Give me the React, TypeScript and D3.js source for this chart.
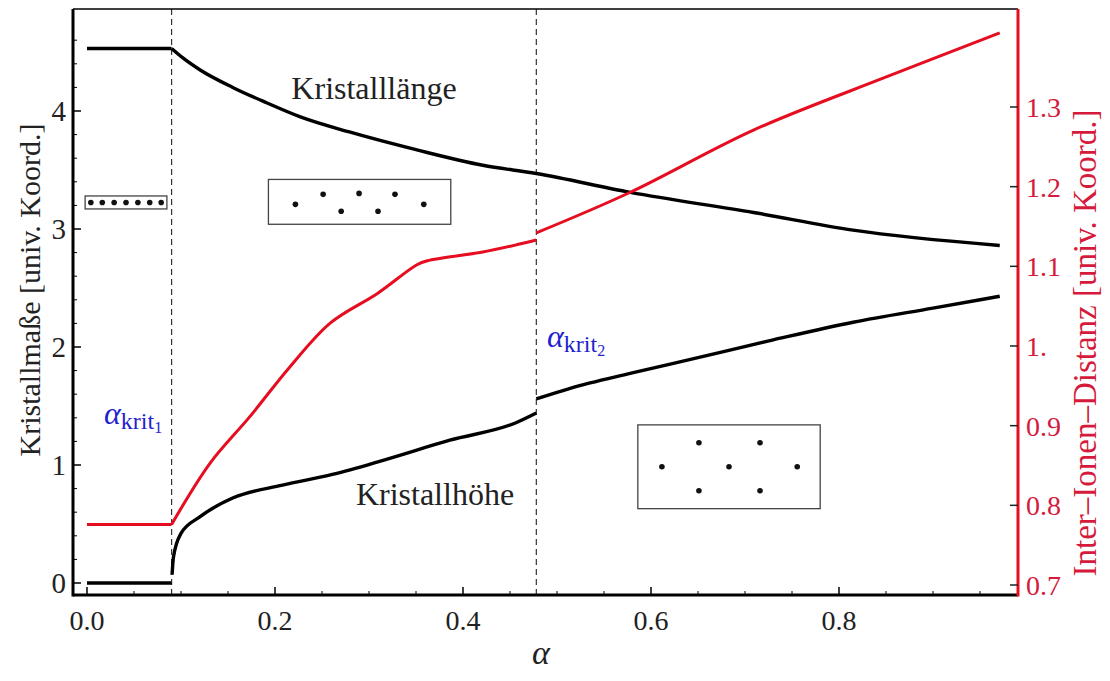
import React from "react";
import * as d3 from "d3";

// alpha positions of the two transitions
const alphaKrit = [0.09, 0.478];

// Kristalllänge (left axis): flat part, then falling part
const laengeAlpha0 = [0, 0.09];
const laengeVal0 = [4.53, 4.53];
const laengeAlpha1 = [0.09, 0.102, 0.12, 0.155, 0.191, 0.227, 0.28, 0.351, 0.421, 0.478, 0.578, 0.709, 0.815, 0.971];
const laengeVal1 = [4.53, 4.45, 4.35, 4.2, 4.07, 3.95, 3.82, 3.67, 3.54, 3.47, 3.31, 3.14, 2.99, 2.86];

// Kristallhöhe (left axis), three pieces
const hoeheAlpha0 = [0, 0.09];
const hoeheVal0 = [0, 0];
const hoeheAlpha1 = [0.0905, 0.092, 0.1, 0.12, 0.155, 0.208, 0.261, 0.315, 0.386, 0.457, 0.478];
const hoeheVal1 = [0.07, 0.22, 0.42, 0.56, 0.72, 0.83, 0.92, 1.04, 1.21, 1.36, 1.44];
const hoeheAlpha2 = [0.478, 0.514, 0.58, 0.65, 0.73, 0.815, 0.9, 0.971];
const hoeheVal2 = [1.56, 1.65, 1.78, 1.91, 2.06, 2.21, 2.33, 2.43];

// Inter-Ionen-Distanz (right axis): flat part, rising part, part after the second transition
const distAlpha0 = [0, 0.09];
const distVal0 = [0.776, 0.776];
const distAlpha1 = [0.09, 0.131, 0.173, 0.216, 0.259, 0.309, 0.351, 0.362, 0.421, 0.457, 0.478];
const distVal1 = [0.776, 0.853, 0.911, 0.974, 1.029, 1.066, 1.102, 1.107, 1.118, 1.127, 1.133];
const distAlpha2 = [0.478, 0.578, 0.709, 0.851, 0.971];
const distVal2 = [1.142, 1.193, 1.271, 1.338, 1.393];

// ticks
const xTicks = [0, 0.2, 0.4, 0.6, 0.8];
const xTickLabels = ["0.0", "0.2", "0.4", "0.6", "0.8"];
const leftTicks = [0, 1, 2, 3, 4];
const rightTicks = [0.7, 0.8, 0.9, 1.0, 1.1, 1.2, 1.3];
const rightTickLabels = ["0.7", "0.8", "0.9", "1.", "1.1", "1.2", "1.3"];

// inset crystal sketches: box in (alpha, left value), dots relative in box
const insetBoxes = [
  { a0: -0.002, a1: 0.085, v0: 3.28, v1: 3.17 },
  { a0: 0.193, a1: 0.387, v0: 3.42, v1: 3.04 },
  { a0: 0.586, a1: 0.78, v0: 1.34, v1: 0.63 },
];
const insetDotsX = [
  [0.07, 0.21, 0.355, 0.5, 0.645, 0.79, 0.93],
  [0.148, 0.3, 0.399, 0.497, 0.601, 0.694, 0.852],
  [0.335, 0.67, 0.132, 0.5, 0.874, 0.335, 0.67],
];
const insetDotsY = [
  [0.5, 0.5, 0.5, 0.5, 0.5, 0.5, 0.5],
  [0.556, 0.333, 0.711, 0.311, 0.711, 0.333, 0.556],
  [0.214, 0.214, 0.5, 0.5, 0.5, 0.786, 0.786],
];

const W = 1110;
const H = 681;
const FONT = "'Liberation Serif', 'Times New Roman', Times, serif";
const RED = "#e50d1f";
const RED_TXT = "#d51a3c";
const BLUE = "#1f1fd0";

export default function App() {
  const x = d3.scaleLinear().domain([0, 0.8]).range([87, 839]);
  const yL = d3.scaleLinear().domain([0, 4]).range([583, 111]);
  const yR = d3.scaleLinear().domain([0.7, 1.3]).range([585, 107]);

  const frameLeft = 73;
  const frameRight = 1018;
  const frameTop = 9;
  const frameBottom = 595;

  const mk = (ys: d3.ScaleLinear<number, number>, curve = d3.curveMonotoneX) =>
    d3
      .line<[number, number]>()
      .x((d) => x(d[0]))
      .y((d) => ys(d[1]))
      .curve(curve);
  const zip = (a: number[], b: number[]) => a.map((v, i) => [v, b[i]] as [number, number]);

  const lineL = mk(yL);
  const lineR = mk(yR, d3.curveCatmullRom.alpha(0.5));

  const blackPaths = [
    lineL(zip(laengeAlpha0, laengeVal0)),
    lineL(zip(laengeAlpha1, laengeVal1)),
    lineL(zip(hoeheAlpha0, hoeheVal0)),
    lineL(zip(hoeheAlpha1, hoeheVal1)),
    lineL(zip(hoeheAlpha2, hoeheVal2)),
  ];
  const redPaths = [
    lineR(zip(distAlpha0, distVal0)),
    lineR(zip(distAlpha1, distVal1)),
    lineR(zip(distAlpha2, distVal2)),
  ];

  const minorX = d3.range(0, 0.99, 0.05).filter((v) => Math.abs((v / 0.2) - Math.round(v / 0.2)) > 1e-6);
  const minorL = d3.range(0, 4.8, 0.2).filter((v) => Math.abs(v - Math.round(v)) > 1e-6);

  const txt = { fontFamily: FONT };

  return (
    <div style={{ position: "absolute", left: 0, top: 0 }}>
      <svg width={W} height={H} style={{ display: "block", background: "#fff", fontFamily: FONT }}>
        {/* critical alpha dashed lines */}
        {alphaKrit.map((a, i) => (
          <line key={"k" + i} x1={x(a)} x2={x(a)} y1={frameTop} y2={frameBottom}
            stroke="#333" strokeWidth={1.2} strokeDasharray="6,4" />
        ))}

        {/* insets */}
        {insetBoxes.map((b, i) => {
          const bx = x(b.a0);
          const by = yL(b.v0);
          const bw = x(b.a1) - x(b.a0);
          const bh = yL(b.v1) - yL(b.v0);
          return (
            <g key={"in" + i}>
              <rect x={bx} y={by} width={bw} height={bh} fill="none" stroke="#444" strokeWidth={1.3} />
              {insetDotsX[i].map((dx, j) => (
                <circle key={j} cx={bx + dx * bw} cy={by + insetDotsY[i][j] * bh} r={2.8} fill="#111" />
              ))}
            </g>
          );
        })}

        {/* curves */}
        {blackPaths.map((p, i) => (
          <path key={"b" + i} d={p || ""} fill="none" stroke="#000" strokeWidth={3.4} strokeLinejoin="round" />
        ))}
        {redPaths.map((p, i) => (
          <path key={"r" + i} d={p || ""} fill="none" stroke={RED} strokeWidth={3} strokeLinejoin="round" />
        ))}

        {/* frame */}
        <line x1={frameLeft} x2={frameRight} y1={frameTop} y2={frameTop} stroke="#000" strokeWidth={1.5} />
        <line x1={frameLeft} x2={frameRight} y1={frameBottom} y2={frameBottom} stroke="#000" strokeWidth={3} />
        <line x1={frameLeft} x2={frameLeft} y1={frameTop} y2={frameBottom + 1.5} stroke="#000" strokeWidth={3} />
        <line x1={frameRight} x2={frameRight} y1={frameTop} y2={frameBottom + 1.5} stroke={RED} strokeWidth={3} />

        {/* bottom ticks */}
        {xTicks.map((t, i) => (
          <g key={"xt" + i}>
            <line x1={x(t)} x2={x(t)} y1={frameBottom} y2={frameBottom - 8} stroke="#000" strokeWidth={1.5} />
            <text style={txt} x={x(t)} y={630} textAnchor="middle" fontSize={28} fill="#222">{xTickLabels[i]}</text>
          </g>
        ))}
        {minorX.map((t, i) => (
          <line key={"xm" + i} x1={x(t)} x2={x(t)} y1={frameBottom} y2={frameBottom - 4} stroke="#000" strokeWidth={1} />
        ))}

        {/* left ticks */}
        {leftTicks.map((t, i) => (
          <g key={"lt" + i}>
            <line x1={frameLeft} x2={frameLeft + 8} y1={yL(t)} y2={yL(t)} stroke="#000" strokeWidth={1.5} />
            <text style={txt} x={66} y={yL(t) + 10} textAnchor="end" fontSize={29} fill="#222">{t}</text>
          </g>
        ))}
        {minorL.map((t, i) => (
          <line key={"lm" + i} x1={frameLeft} x2={frameLeft + 4} y1={yL(t)} y2={yL(t)} stroke="#000" strokeWidth={1} />
        ))}

        {/* right ticks */}
        {rightTicks.map((t, i) => (
          <g key={"rt" + i}>
            <line x1={frameRight} x2={frameRight - 8} y1={yR(t)} y2={yR(t)} stroke="#222" strokeWidth={1.5} />
            <text style={txt} x={1026} y={yR(t) + 10} textAnchor="start" fontSize={28} fill={RED_TXT}>{rightTickLabels[i]}</text>
          </g>
        ))}

        {/* axis titles */}
        <text style={txt} transform="translate(40,290) rotate(-90)" textAnchor="middle" fontSize={30} fill="#222">
          Kristallmaße [univ. Koord.]
        </text>
        <text style={txt} transform="translate(1096,343) rotate(-90)" textAnchor="middle" fontSize={33} fill={RED_TXT}>
          Inter–Ionen–Distanz [univ. Koord.]
        </text>
        <text style={txt} x={541} y={664} textAnchor="middle" fontSize={34} fontStyle="italic" fill="#222">α</text>

        {/* curve labels */}
        <text style={txt} x={374} y={99} textAnchor="middle" fontSize={32} fill="#222">Kristalllänge</text>
        <text style={txt} x={435} y={505} textAnchor="middle" fontSize={32} fill="#222">Kristallhöhe</text>

        {/* critical alpha labels */}
        <text style={txt} x={104} y={424} fill={BLUE}>
          <tspan fontSize={32} fontStyle="italic">α</tspan>
          <tspan fontSize={24} dy={5}>krit</tspan>
          <tspan fontSize={16} dy={4}>1</tspan>
        </text>
        <text style={txt} x={547} y={347} fill={BLUE}>
          <tspan fontSize={32} fontStyle="italic">α</tspan>
          <tspan fontSize={24} dy={5}>krit</tspan>
          <tspan fontSize={16} dy={4}>2</tspan>
        </text>
      </svg>
    </div>
  );
}
